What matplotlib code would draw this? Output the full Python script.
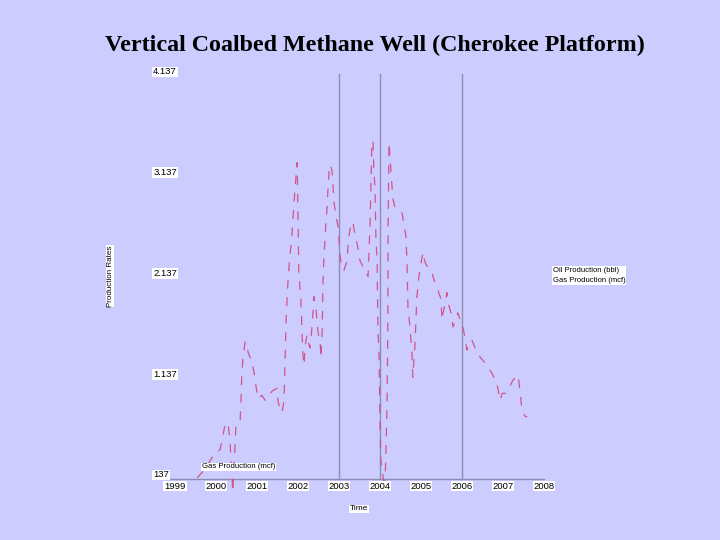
import matplotlib
matplotlib.use("Agg")
import matplotlib.pyplot as plt
import numpy as np

# ---- data (decimal year, gas production in axis units) ----
years = [1999.54, 1999.71, 1999.90, 2000.00, 2000.10, 2000.22, 2000.29, 2000.34, 2000.41, 2000.46,
         2000.49, 2000.59, 2000.61, 2000.63, 2000.66, 2000.71, 2000.76, 2000.78, 2000.88, 2000.93,
         2000.98, 2001.02, 2001.12, 2001.20, 2001.27, 2001.39, 2001.49, 2001.51, 2001.56, 2001.61,
         2001.63, 2001.66, 2001.68, 2001.71, 2001.76, 2001.80, 2001.85, 2001.88, 2001.93, 2001.98,
         2002.00, 2002.02, 2002.07, 2002.12, 2002.15, 2002.17, 2002.22, 2002.24, 2002.29, 2002.32,
         2002.37, 2002.39, 2002.44, 2002.49, 2002.54, 2002.56, 2002.59, 2002.61, 2002.63, 2002.68,
         2002.71, 2002.73, 2002.76, 2002.80, 2002.83, 2002.85, 2002.88, 2002.93, 2002.98, 2003.02,
         2003.07, 2003.12, 2003.20, 2003.22, 2003.29, 2003.34, 2003.37, 2003.44, 2003.51, 2003.63,
         2003.71, 2003.73, 2003.76, 2003.78, 2003.80, 2003.83, 2003.85, 2003.88, 2003.90, 2003.93,
         2003.95, 2003.98, 2004.00, 2004.02, 2004.12, 2004.17, 2004.19, 2004.20, 2004.22, 2004.29,
         2004.32, 2004.37, 2004.44, 2004.54, 2004.59, 2004.63, 2004.66, 2004.68, 2004.73, 2004.78,
         2004.80, 2004.85, 2004.88, 2004.90, 2004.95, 2005.00, 2005.05, 2005.10, 2005.17, 2005.27,
         2005.34, 2005.41, 2005.49, 2005.51, 2005.54, 2005.61, 2005.63, 2005.66, 2005.73, 2005.78,
         2005.85, 2005.90, 2005.95, 2006.02, 2006.07, 2006.12, 2006.17, 2006.24, 2006.32, 2006.44,
         2006.61, 2006.73, 2006.85, 2006.93, 2006.98, 2007.05, 2007.12, 2007.24, 2007.37, 2007.44,
         2007.46, 2007.54, 2007.59]
gas = [-0.01, 0.07, 0.19, 0.25, 0.27, 0.52, 0.54, 0.37, -0.15, 0.27,
       0.54, 0.57, 0.76, 1.03, 1.19, 1.34, 1.33, 1.24, 1.14, 1.03,
       0.89, 0.78, 0.81, 0.76, 0.81, 0.86, 0.88, 0.76, 0.67, 0.64,
       0.69, 0.76, 1.09, 1.56, 1.98, 2.18, 2.38, 2.58, 2.88, 3.12,
       2.58, 2.02, 1.76, 1.21, 1.11, 1.29, 1.41, 1.36, 1.28, 1.38,
       1.66, 1.79, 1.66, 1.43, 1.34, 1.18, 1.46, 1.94, 2.15, 2.52,
       2.68, 2.85, 3.05, 3.10, 3.03, 2.92, 2.72, 2.58, 2.48, 2.22,
       2.07, 2.05, 2.15, 2.32, 2.52, 2.53, 2.45, 2.32, 2.15, 2.05,
       1.99, 2.22, 2.55, 2.92, 3.28, 3.34, 3.05, 2.85, 2.38, 2.13,
       1.46, 1.16, 0.52, 0.17, -0.13, 0.67, 1.46, 2.60, 3.32, 2.90,
       2.75, 2.67, 2.65, 2.62, 2.48, 2.40, 2.12, 1.69, 1.49, 1.23,
       0.99, 1.29, 1.59, 1.79, 1.99, 2.12, 2.23, 2.13, 2.08, 2.02,
       1.93, 1.86, 1.76, 1.56, 1.63, 1.76, 1.83, 1.73, 1.63, 1.49,
       1.56, 1.63, 1.56, 1.49, 1.39, 1.26, 1.33, 1.36, 1.28, 1.19,
       1.11, 1.03, 0.93, 0.76, 0.83, 0.83, 0.86, 0.96, 1.01, 0.76,
       0.67, 0.60, 0.60]

x_ticks = [1999, 2000, 2001, 2002, 2003, 2004, 2005, 2006, 2007, 2008]
x_labels = ["1999", "2000", "2001", "2002", "2003", "2004", "2005", "2006", "2007", "2008"]
y_ticks = [0, 1, 2, 3, 4]
y_labels = ["137", "1.137", "2.137", "3.137", "4.137"]
ref_years = [2003, 2004, 2006]
legend_labels = ["Oil Production (bbl)", "Gas Production (mcf)"]

bg = "#ccccff"
line_col = "#d0558c"
grid_col = "#8c8cb4"
sans = "Liberation Sans"

fig = plt.figure(figsize=(7.2, 5.4), dpi=100, facecolor=bg)
W, H = 720.0, 540.0
left_px, right_px, top_px, bot_px = 165, 560, 60, 500
ax = fig.add_axes([left_px / W, 1 - bot_px / H, (right_px - left_px) / W, (bot_px - top_px) / H])
ax.set_facecolor(bg)
ax.set_xlim(1999 + (left_px - 175) / 41.0, 1999 + (right_px - 175) / 41.0)
ax.set_ylim((477 - bot_px) / 100.75, (477 - top_px) / 100.75)
for s in ax.spines.values():
    s.set_visible(False)
ax.set_xticks([])
ax.set_yticks([])

base = -0.02
ax.plot([1998.78, 2008.0], [base, base], color=grid_col, lw=1.0)
for yr in ref_years:
    ax.plot([yr, yr], [base, 4.0], color=grid_col, lw=1.0)

ax.plot(years, gas, color=line_col, lw=0.9, linestyle=(0, (7, 7)))

bbox = dict(facecolor="white", edgecolor="none", pad=0.6)
for xv, lab in zip(x_ticks, x_labels):
    ax.text(xv, -0.09, lab, ha="center", va="center", fontsize=6.8,
            family=sans, bbox=bbox, color="black")
for yv, lab in zip(y_ticks, y_labels):
    ax.text(1998.47, yv + 0.02, lab, ha="left", va="center", fontsize=6.8,
            family=sans, bbox=bbox, color="black", clip_on=False)

ax.text(1999.66, 0.10, "Gas Production (mcf)", ha="left", va="center", fontsize=5.6,
        family=sans, bbox=bbox)
ax.text(2008.22, 2.0, legend_labels[0] + "\n" + legend_labels[1], ha="left", va="center",
        fontsize=5.5, family=sans, bbox=bbox, linespacing=1.6, clip_on=False)

fig.text(110 / W, 1 - 276 / H, "Production Rates", rotation=90, ha="center", va="center",
         fontsize=5.8, family=sans, bbox=bbox)
fig.text(359 / W, 1 - 509 / H, "Time", ha="center", va="center", fontsize=6,
         family=sans, bbox=bbox)

fig.text(375 / W, 1 - 45 / H, "Vertical Coalbed Methane Well (Cherokee Platform)",
         ha="center", va="center", fontsize=17.3, fontweight="bold", family="Liberation Serif")

fig.savefig("out.png", dpi=100, facecolor=bg)
